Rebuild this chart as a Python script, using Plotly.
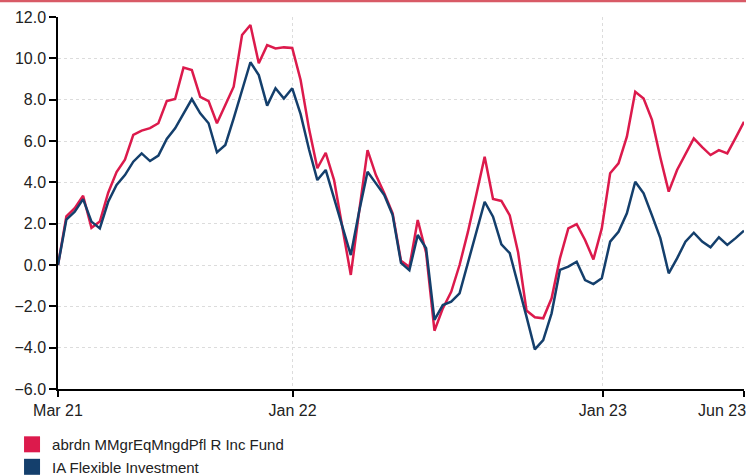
import pandas as pd
import plotly.graph_objects as go

start_date = "2021-03-31"
end_date = "2023-06-16"
n_points = 83

fund_name = "abrdn MMgrEqMngdPfl R Inc Fund"
sector_name = "IA Flexible Investment"

fund_values = [
    0.0, 2.35, 2.75, 3.35, 1.8, 2.1, 3.5, 4.5, 5.1, 6.3,
    6.5, 6.62, 6.86, 7.93, 8.03, 9.55, 9.43, 8.14, 7.93, 6.86,
    7.74, 8.63, 11.13, 11.61, 9.76, 10.64, 10.48, 10.53, 10.5, 8.95,
    6.6, 4.68, 5.43, 4.11, 1.8, -0.48, 2.6, 5.56, 4.35, 3.47,
    2.5, 0.2, -0.1, 2.18, 0.6, -3.18, -2.1, -1.3, 0.0, 1.6,
    3.4, 5.24, 3.2, 3.1, 2.4, 0.6, -2.2, -2.53, -2.58, -1.61,
    0.32, 1.77, 1.98, 1.21, 0.27, 1.77, 4.44, 4.92, 6.21, 8.38,
    8.06, 7.02, 5.2, 3.55, 4.6, 5.4, 6.13, 5.7, 5.32, 5.56,
    5.4, 6.15, 6.93,
]

sector_values = [
    0.0, 2.2, 2.58, 3.19, 2.1, 1.77, 3.06, 3.87, 4.35, 5.0,
    5.4, 5.03, 5.29, 6.1, 6.61, 7.34, 8.03, 7.34, 6.86, 5.45,
    5.81, 7.1, 8.45, 9.81, 9.19, 7.71, 8.55, 8.06, 8.55, 7.3,
    5.6, 4.11, 4.6, 3.2, 1.85, 0.48, 2.6, 4.51, 3.95, 3.39,
    2.42, 0.1, -0.25, 1.45, 0.81, -2.66, -1.94, -1.77, -1.37, 0.1,
    1.6, 3.06, 2.34, 1.0, 0.57, -0.9, -2.5, -4.08, -3.63, -2.34,
    -0.24, -0.08, 0.16, -0.73, -0.92, -0.64, 1.13, 1.61, 2.5, 4.03,
    3.47, 2.4, 1.3, -0.4, 0.32, 1.13, 1.56, 1.13, 0.86, 1.34,
    0.97, 1.3, 1.66,
]

tick_dates = ["2021-03-31", "2022-01-01", "2023-01-01", "2023-06-16"]
tick_labels = ["Mar 21", "Jan 22", "Jan 23", "Jun 23"]
y_ticks = [-6, -4, -2, 0, 2, 4, 6, 8, 10, 12]

dates = pd.date_range(start_date, end_date, periods=n_points)

RED = "#dc1a4c"
BLUE = "#143f6c"
FONT = dict(family="Liberation Sans, Arial, sans-serif", size=16, color="#222222")
LEGEND_FONT = dict(family="Liberation Sans, Arial, sans-serif", size=15, color="#222222")

fig = go.Figure()
fig.add_trace(go.Scatter(x=dates, y=fund_values, mode="lines",
                         line=dict(color=RED, width=2.5), showlegend=False,
                         name=fund_name))
fig.add_trace(go.Scatter(x=dates, y=sector_values, mode="lines",
                         line=dict(color=BLUE, width=2.5), showlegend=False,
                         name=sector_name))
# legend entries (square swatches)
for nm, col in [(fund_name, RED), (sector_name, BLUE)]:
    fig.add_trace(go.Scatter(x=[None], y=[None], mode="markers", name=nm,
                             marker=dict(symbol="square", size=16, color=col)))

# last tick label is drawn right-aligned so it stays inside the page
shown_labels = tick_labels[:-1] + [""]

fig.update_layout(
    width=746, height=475,
    margin=dict(l=58, r=2, t=17, b=86, autoexpand=False),
    paper_bgcolor="white", plot_bgcolor="white",
    font=FONT,
    legend=dict(x=-0.067, y=-0.105, xanchor="left", yanchor="top",
                orientation="v", font=LEGEND_FONT, bgcolor="rgba(0,0,0,0)",
                tracegroupgap=0, itemwidth=30),
    shapes=[dict(type="rect", xref="paper", yref="paper",
                 x0=-0.2, x1=1.2, y0=1 + 14.8 / 372, y1=1 + 17.5 / 372,
                 fillcolor="#d85a66", line=dict(width=0), layer="above")],
    annotations=[dict(text=tick_labels[-1], x=pd.to_datetime(tick_dates[-1]),
                      xref="x", yref="paper", y=0, xanchor="right",
                      yanchor="middle", xshift=4, yshift=-21,
                      showarrow=False, font=FONT)],
)
fig.update_xaxes(
    type="date", range=[dates[0], dates[-1]], automargin=False,
    tickvals=pd.to_datetime(tick_dates), ticktext=shown_labels,
    ticklabeloverflow="allow",
    showgrid=True, gridcolor="#dcdcdc", griddash="dot", gridwidth=1,
    showline=True, linecolor="black", linewidth=1.5,
    ticks="outside", ticklen=6, tickcolor="black", tickwidth=1.5,
    zeroline=False, tickfont=FONT,
)
fig.update_yaxes(
    range=[-6, 12], tickvals=y_ticks, tickformat=".1f", automargin=False,
    showgrid=True, gridcolor="#dcdcdc", griddash="dot", gridwidth=1,
    showline=True, linecolor="black", linewidth=1.5,
    ticks="outside", ticklen=7, tickcolor="black", tickwidth=1.5,
    zeroline=False, tickfont=FONT,
)

fig.write_html("out.html", config={"displayModeBar": False},
               post_script="document.body.style.margin='0';")
